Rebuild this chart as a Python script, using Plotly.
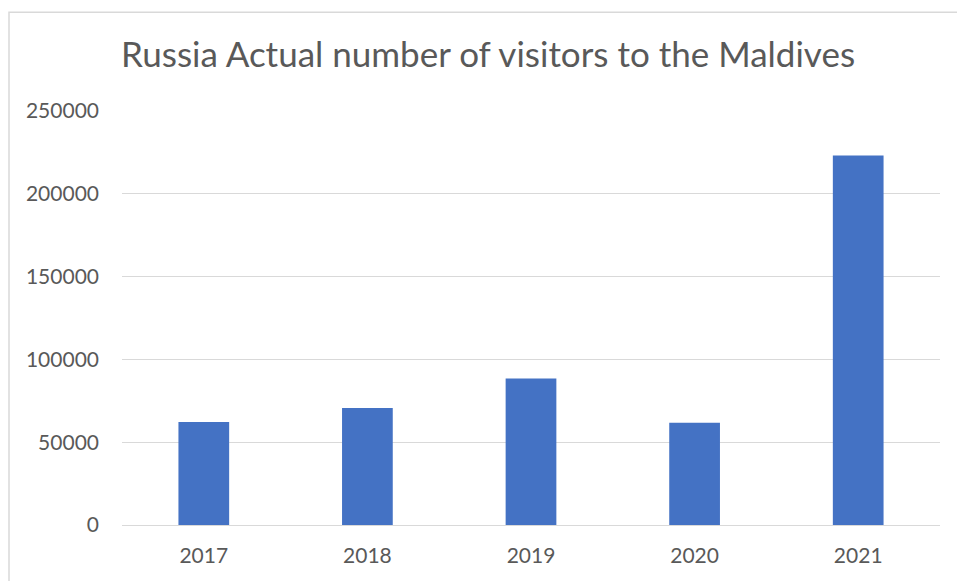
import plotly.graph_objects as go

# Russian arrivals to the Maldives per year
years = ["2017", "2018", "2019", "2020", "2021"]
visitors = [62200, 70700, 88500, 61800, 223200]

title_text = "Russia Actual number of visitors to the Maldives"
y_ticks = [0, 50000, 100000, 150000, 200000, 250000]

BAR_BLUE = "#4472C4"
TEXT_GREY = "#595959"
GRID_GREY = "#D9D9D9"
FONT = "Lato, 'Open Sans', sans-serif"

fig = go.Figure(
    go.Bar(
        x=years,
        y=visitors,
        marker=dict(color=BAR_BLUE, line=dict(width=0)),
        hoverinfo="x+y",
    )
)

fig.update_layout(
    width=957,
    height=581,
    margin=dict(l=122, r=17, t=111, b=56),
    paper_bgcolor="white",
    plot_bgcolor="white",
    bargap=0.69,
    showlegend=False,
    font=dict(family=FONT, color=TEXT_GREY),
    title=dict(
        text=title_text,
        x=0.51,
        xref="container",
        xanchor="center",
        y=1 - 55 / 581,
        yref="container",
        yanchor="middle",
        font=dict(family=FONT, size=35, color=TEXT_GREY),
    ),
    xaxis=dict(
        type="category",
        showgrid=False,
        showline=False,
        ticks="",
        tickfont=dict(family=FONT, size=21, color=TEXT_GREY),
        ticklabelstandoff=16,
    ),
    yaxis=dict(
        range=[0, 250000],
        tickvals=y_ticks,
        ticktext=[str(v) for v in y_ticks],
        showgrid=True,
        gridcolor=GRID_GREY,
        gridwidth=1.3,
        zeroline=True,
        zerolinecolor=GRID_GREY,
        zerolinewidth=1.3,
        showline=False,
        ticks="",
        tickfont=dict(family=FONT, size=21, color=TEXT_GREY),
        ticklabelstandoff=22,
    ),
    shapes=[
        # chart-area border running off the page edge
        dict(
            type="rect",
            xref="paper",
            yref="paper",
            x0=(9 - 122) / 818,
            x1=1.2,
            y0=-0.3,
            y1=(525.3 - 12) / 414.5,
            line=dict(color=GRID_GREY, width=1.5),
            fillcolor="rgba(0,0,0,0)",
            layer="below",
        )
    ],
)

fig.write_html("out.html")
